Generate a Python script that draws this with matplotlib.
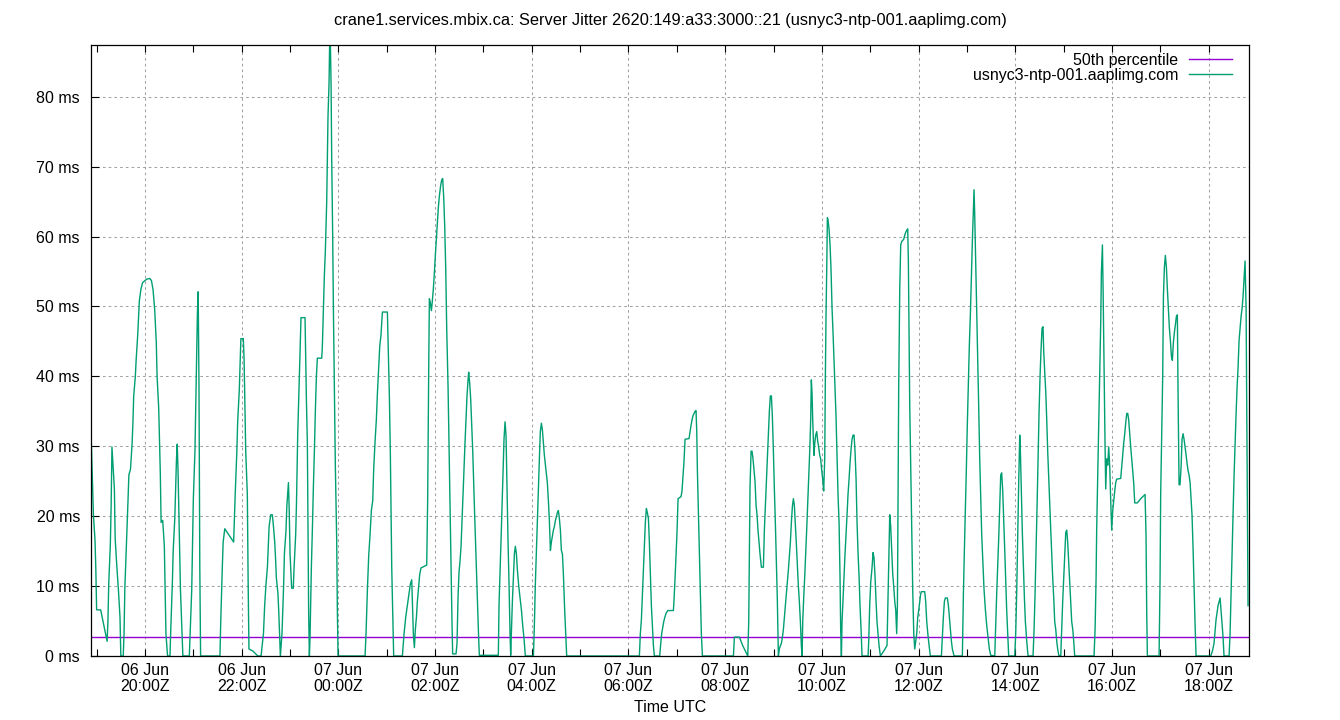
import pandas as pd
import matplotlib
matplotlib.use("Agg")
import matplotlib.pyplot as plt
import matplotlib.dates as mdates
from matplotlib.ticker import FuncFormatter

plt.rcParams['font.family'] = ['Liberation Sans', 'DejaVu Sans']
plt.rcParams['font.size'] = 11.5

title = "crane1.services.mbix.ca: Server Jitter 2620:149:a33:3000::21 (usnyc3-ntp-001.aaplimg.com)"
server = "usnyc3-ntp-001.aaplimg.com"

# window: 24h ending around 18:50Z on 07 Jun
window_start = pd.Timestamp("2023-06-06 18:53")
window_minutes = 1437
p50_ms = 2.67
y_max = 87.4
y_ticks = [0, 10, 20, 30, 40, 50, 60, 70, 80]

# minutes since window_start
jitter_min = [
    0, 1, 2, 3, 5, 6, 7, 12, 20, 21,
    22, 24, 25, 26, 27, 29, 30, 32, 34, 36,
    37, 40, 41, 42, 44, 46, 47, 49, 51, 52,
    53, 55, 56, 58, 59, 60, 62, 64, 69, 73,
    75, 77, 79, 81, 82, 84, 85, 86, 87, 89,
    91, 92, 93, 95, 98, 99, 101, 102, 104, 105,
    106, 107, 108, 110, 111, 113, 114, 122, 123, 125,
    127, 129, 130, 131, 132, 133, 134, 135, 136, 160,
    161, 163, 164, 166, 177, 179, 181, 182, 184, 185,
    186, 189, 190, 191, 192, 194, 195, 196, 201, 207,
    211, 214, 215.5, 217, 219, 220, 221, 223, 225, 226,
    228, 229, 230, 232, 233, 234, 235, 237, 238, 239,
    240, 242, 243, 244, 245, 246, 247, 249, 251, 252,
    254, 255, 255.7, 256.5, 257.7, 259, 260.6, 265.6, 266.4, 267.3,
    268.5, 269.3, 270.1, 271, 271.8, 273.5, 274.7, 275.9, 277.2, 278.4,
    279.7, 280.9, 286.3, 287.1, 287.9, 288.8, 289.6, 290.8, 291.7, 292.5,
    293.3, 294.1, 295.4, 296.2, 297, 297.9, 298.7, 299.9, 300.8, 302,
    303.2, 304.9, 305.7, 306.6, 340.1, 341.3, 343, 344.6, 346.3, 347.9,
    349.6, 350.8, 352.5, 354.1, 355.4, 357, 358.3, 359.9, 361.6, 367.8,
    368.6, 370.3, 371.5, 372.3, 373.2, 374.4, 375.6, 386.4, 388.5, 390.5,
    392.6, 394.7, 396.3, 398, 398.8, 400, 401.3, 402.5, 403.8, 405,
    406.3, 407.9, 409.5, 416.6,
    417.8, 419.1, 419.9, 421.1, 422.4, 423.6, 424.8, 426.1, 427.3, 428.6,
    429.8, 431, 432.3, 433.9, 435.2, 436.4, 437.7, 438.9, 440.2, 441.4,
    443.1, 444.3, 445.5, 446.8, 448, 448.8, 453, 454.2, 455.5, 456.7,
    458, 459.2, 460.4, 461.7, 462.9, 464.2, 465.4, 466.6, 467.9, 468.7,
    470, 471.2, 472.4, 473.7, 474.9, 476.1, 477.4, 478.6, 479.9, 481.1,
    481.9, 505.5, 506.3, 507.6, 508.8, 510, 511.3, 512.5, 513.8, 515,
    516.3, 517.5, 518.8, 520, 520.8, 522.9, 524.1, 525.4, 526.6, 527.9,
    529.1, 530.8, 532.4, 534.1, 535.7, 537.4, 539, 549, 550.2, 551.4,
    553.1, 554.7, 556.4, 557.6, 558.9, 560.1, 561.4, 562.6, 563.9, 565.1,
    566.3, 567.6, 568.8, 570.1, 571.3, 572.5, 573.8, 575, 576.3, 577.5,
    578.7, 580, 581.2, 582.5, 583.7, 585, 586.2, 587.8, 589.1, 590.3,
    680.5, 681.7, 683, 684.2, 685.5, 686.7, 687.9, 689.2, 690.4, 691.7,
    692.9, 694.1, 695.4, 696.6, 697.9, 699.1, 705.7, 707, 708.2, 709.5,
    710.7, 712, 713.6, 715.7, 722.7, 723.5, 724.8, 726, 727.2, 728.5,
    732.2, 733.4, 734.7, 735.9, 737.2, 742.1, 743.4, 744.6, 745.9, 747.1,
    748.3, 749.6, 750.8, 751.7, 752.5, 753.7, 755, 756.2, 757.4, 758.7,
    797.2, 798.4, 804.6, 808.7, 815, 816.2, 817, 817.8, 819.1,
    820.3, 821.5, 822.8, 824, 825.3, 826.5, 827.7, 829, 830.2, 831.9,
    834.4, 835.6, 836.8, 838.1, 839.3, 840.6, 841.8, 843, 844.3, 845.5,
    846.8, 848, 849.3, 850.5, 851.7, 853, 854.2, 855.5, 856.7, 858,
    859.2, 860.4, 861.7, 862.9, 864.2, 865.4, 866.6, 867.9, 869.1, 870.4,
    871.6, 872.8, 874.1, 875.3, 876.6, 877.8, 879, 880.3, 881.5, 882.4,
    883.2, 884.4, 885.7, 886.9, 888.1, 889.4, 890.6, 891.9, 893.1, 893.9,
    894.8, 895.6, 896.4, 897.2, 898.1, 899.3, 900.6, 901.8, 903, 904.3,
    905.5, 906.8, 908, 909.2, 910.5, 911.3, 912.1, 913, 913.8, 914.6,
    915.9, 917.1, 918.3, 919.6, 920.8, 922.1, 923.3, 924.5, 925.8, 927,
    928.3, 929.5, 930.3, 931.2, 932, 933.2, 934.5, 935.7, 937, 938.2,
    939.4, 940.7, 941.9, 943.2, 944.4, 945.7, 946.9, 948.1, 949.4, 950.6,
    951.9, 953.1, 954.3, 955.6, 956.8, 964.3, 965.1, 966.3, 967.6, 969.2,
    970.5, 971.7, 973, 974.2, 975.4, 976.7, 977.9, 979.6, 983.7, 987.8,
    989.1, 990.3, 991.2, 992.4, 993.6, 994.9, 996.1, 997.4, 998.6, 999.8,
    1000.7, 1001.5, 1002.3, 1003.6, 1004.8, 1006.1, 1008.5, 1009.8, 1011, 1012.3,
    1013.5, 1014.3, 1015.2, 1016, 1017.2, 1018.5, 1019.7, 1021, 1022.2, 1023.4,
    1024.7, 1025.9, 1027.2, 1028.4, 1029.6,
    1030.4, 1034.6, 1035.8, 1037.1, 1038.7, 1040, 1041.6, 1055.3, 1056.5, 1057.7,
    1059, 1060.2, 1062.7, 1064, 1065.2, 1066.4, 1067.7, 1068.9, 1071, 1081.3,
    1082.6, 1083.8, 1085.1, 1086.3, 1087.5, 1088.8, 1090, 1091.3, 1092.5, 1093.7,
    1095, 1095.8, 1096.6, 1097.9, 1099.1, 1100.4, 1101.6, 1102.8, 1104.1, 1105.3,
    1107, 1108.2, 1109.9, 1111.5, 1113.2, 1114.8, 1116.5, 1121.5, 1122.7, 1123.9,
    1125.2, 1126.4, 1127.7, 1128.9, 1130.1, 1131.4, 1132.6, 1133.9, 1135.1, 1136.3,
    1137.6, 1138.8, 1146.3, 1147.5, 1148.8, 1150, 1151.2, 1152.5, 1153.3, 1154.5,
    1155.8, 1157, 1158.3, 1159.5, 1161.2, 1162.8, 1169, 1170.3, 1171.5, 1172.8,
    1174, 1175.2, 1176.5, 1177.7, 1179, 1180.2, 1181.4, 1182.3, 1183.5, 1184.8,
    1186, 1187.2, 1188.5, 1189.7, 1191, 1192.2, 1193.4, 1194.7, 1195.9, 1197.2,
    1198.4, 1199.6, 1200.9, 1203.4, 1204.6, 1205.8, 1207.1, 1208.3, 1209.6, 1210.8,
    1212, 1213.3, 1214.5, 1215.8, 1217, 1218.3, 1219.5, 1220.7, 1244.7, 1246,
    1247.2, 1248, 1249.3, 1250.5, 1251.7, 1253, 1253.8, 1255.1, 1255.9, 1257.1,
    1258.4, 1259.2, 1260.4, 1261.7, 1262.9, 1264.2, 1265.4, 1266.6, 1267.9, 1269.1,
    1270.4, 1271.6, 1272.8, 1277.8, 1279, 1280.3, 1281.5, 1282.8, 1284, 1285.3,
    1286.5, 1287.7, 1289, 1290.2, 1291.5, 1292.7, 1293.9, 1295.2, 1298.5, 1302.6,
    1308, 1309.2, 1310.1, 1310.9, 1325.4, 1326.6, 1327.4, 1328.7, 1329.9, 1330.8,
    1332, 1333.2, 1334.5, 1335.7, 1337, 1338.2, 1339.4, 1340.7, 1341.9, 1343.2,
    1344.4, 1345.7, 1346.9, 1348.1, 1349, 1350.2, 1351.4, 1352.7, 1353.9, 1355.2,
    1356.4, 1357.7, 1358.9, 1360.1, 1361.4, 1362.6, 1363.9, 1365.1, 1366.3, 1367.6,
    1368.8, 1370.1, 1371.3, 1389.5, 1391.6, 1393.6, 1394.9, 1396.1, 1397.4, 1398.6,
    1399.9, 1401.1, 1402.3, 1403.6, 1404.8, 1406, 1412.3, 1413.5, 1414.7, 1416,
    1417.2, 1418.5, 1419.7, 1420.9, 1422.2, 1423.4, 1424.7, 1425.9, 1427.2, 1428.4,
    1429.6, 1430.9, 1432.1, 1433.4, 1434.2, 1435, 1435.8,
]

jitter_ms = [
    32.1, 28.4, 24.2, 20.2, 16.5, 12.3, 6.6, 6.6, 2.1, 4.9,
    10.3, 16.0, 21.6, 29.9, 27.9, 24.0, 16.8, 12.9, 9.5, 5.5,
    0, 0, 3.2, 9.7, 16.0, 22.5, 25.9, 26.7, 30.4, 33.3,
    37.2, 40.0, 42.3, 46.0, 48.3, 50.8, 52.5, 53.4, 53.9, 54.0,
    53.7, 52.4, 49.6, 44.9, 40.0, 35.5, 30.7, 26.2, 19.1, 19.4,
    15.7, 9.5, 3.2, 0, 0, 3.8, 10.6, 15.1, 19.7, 23.9,
    27.9, 30.3, 26.5, 15.1, 9.5, 3.2, 0, 0, 3.2, 9.5,
    22.5, 29.3, 35.8, 42.3, 48.8, 52.1, 38.9, 12.9, 0, 0,
    4.9, 12.9, 16.3, 18.2, 16.3, 23.3, 29.3, 33.5, 38.0, 41.5,
    45.4, 45.4, 42.3, 35.8, 29.3, 23.1, 10.6, 1.0, 0.7, 0,
    0, 3.2, 7.2, 10.0, 12.9, 15.7, 18.5, 20.2, 20.2, 19.1,
    16.3, 14.0, 11.2, 8.9, 6.3, 3.2, 0, 3.2, 6.6, 10.0,
    14.6, 18.0, 21.4, 23.1, 24.8, 20.8, 14.6, 9.7, 9.7, 12.6,
    17.4, 21.9, 26.7, 31.6, 36.4, 41.2, 48.4, 48.4, 42.8, 36.7,
    30.4, 18.5, 6.1, 0, 2.7, 12.9, 18.0, 23.9, 29.3, 35.0,
    40.0, 42.6, 42.6, 44.3, 47.7, 51.1, 54.5, 57.9, 61.6, 65.0,
    71.2, 77.2, 82.0, 88.0, 88.0, 82.0, 71.2, 60.2, 49.7, 38.4,
    27.3, 16.5, 6.6, 0, 0, 3.2, 9.5, 14.3, 17.4, 20.8,
    22.2, 26.7, 30.7, 33.8, 37.5, 41.2, 44.3, 46.0, 49.2, 49.2,
    45.2, 36.9, 28.7, 20.5, 12.6, 6.3, 0, 0, 3.2, 5.5,
    7.2, 8.9, 10.3, 10.9, 7.8, 3.2, 1.2, 3.8, 5.5, 7.8,
    9.5, 11.7, 12.6, 13.0,
    22.5, 41.5, 51.1, 50.5, 49.4, 50.8, 52.5, 54.8, 57.3, 59.6,
    61.9, 64.1, 65.8, 67.3, 68.1, 68.3, 65.6, 61.6, 55.4, 46.9,
    38.4, 29.9, 21.4, 12.9, 4.6, 0.3, 0.3, 1.8, 8.6, 12.0,
    13.7, 15.7, 19.4, 23.3, 27.3, 30.7, 33.8, 37.2, 39.5, 40.6,
    38.9, 36.7, 33.0, 29.3, 24.5, 20.2, 15.7, 11.2, 6.6, 2.4,
    0.1, 0.1, 7.2, 12.0, 16.5, 21.4, 26.2, 31.0, 33.5, 31.6,
    23.6, 16.5, 10.0, 3.2, 0.1, 7.8, 11.2, 14.6, 15.7, 14.6,
    12.3, 10.0, 8.3, 6.6, 4.4, 2.4, 0, 0, 4.4, 10.3,
    16.5, 22.2, 28.2, 32.1, 33.3, 32.4, 30.4, 28.7, 27.3, 25.9,
    24.8, 22.2, 19.4, 15.1, 16.3, 17.1, 18.0, 18.5, 19.4, 19.9,
    20.5, 20.8, 19.7, 18.0, 15.1, 14.6, 11.7, 6.6, 3.2, 0,
    0, 3.2, 5.2, 8.6, 12.0, 15.7, 19.1, 21.1, 20.5, 19.7,
    16.3, 12.0, 7.2, 4.4, 1.5, 0, 0, 1.8, 3.2, 4.1,
    4.9, 5.5, 6.1, 6.5, 6.5, 8.0, 11.2, 14.6, 17.7, 22.5,
    22.8, 23.6, 25.9, 27.9, 31.0, 31.1, 32.1, 33.0, 33.8, 34.4,
    34.7, 35.0, 35.1, 32.1, 26.5, 20.8, 14.6, 8.9, 3.2, 0,
    0, 2.7, 2.7, 1.5, 0, 4.9, 14.6, 24.2, 29.3,
    29.3, 28.2, 26.5, 25.0, 21.6, 20.2, 18.0, 16.3, 14.6, 12.7,
    12.7, 18.0, 21.4, 24.8, 28.2, 31.6, 35.0, 37.2, 37.2, 34.4,
    29.3, 23.9, 18.8, 13.4, 8.0, 0, 1.0, 1.5, 1.8, 2.7,
    3.8, 5.5, 7.2, 8.9, 10.6, 12.3, 14.3, 16.3, 19.1, 21.4,
    22.5, 21.6, 18.8, 16.0, 12.9, 10.0, 7.8, 4.9, 1.5, 0,
    4.9, 8.3, 11.4, 14.6, 18.0, 21.9, 25.3, 29.3, 33.8, 39.5,
    37.5, 33.8, 31.0, 28.7, 30.4, 31.6, 32.1, 30.7, 29.9, 28.7,
    28.2, 26.5, 25.3, 23.6, 28.2, 40.0, 48.6, 55.4, 62.7, 62.4,
    61.0, 58.8, 55.4, 49.7, 46.3, 42.0, 38.4, 34.4, 28.7, 23.1,
    19.1, 11.2, 3.8, 0, 4.9, 8.0, 11.2, 14.6, 17.4, 20.2,
    23.1, 25.3, 27.6, 29.6, 31.0, 31.6, 31.6, 29.3, 25.3, 19.1,
    14.6, 11.4, 7.2, 3.8, 0, 0, 2.1, 7.2, 10.6, 12.6,
    14.8, 14.0, 11.2, 7.8, 4.9, 3.2, 1.5, 0, 0.7, 1.5,
    8.9, 15.1, 20.2, 18.5, 15.1, 11.7, 10.0, 7.8, 6.6, 3.2,
    7.2, 24.2, 38.4, 52.5, 58.8, 59.3, 59.6, 60.2, 60.6, 60.9,
    61.1, 56.5, 46.0, 35.8, 27.0, 18.0, 9.5, 3.2, 1.0, 2.1,
    3.2, 5.5, 6.6, 7.8, 8.9,
    9.2, 9.2, 7.8, 4.9, 2.9, 1.5, 0, 0, 2.7, 5.5,
    7.8, 8.3, 8.3, 7.2, 5.5, 3.8, 2.1, 1.0, 0, 0,
    8.9, 15.1, 21.1, 27.0, 33.3, 39.2, 44.6, 49.1, 54.2, 59.3,
    63.9, 66.7, 63.3, 56.2, 49.1, 42.6, 35.5, 28.4, 22.5, 17.4,
    12.9, 9.5, 6.6, 4.4, 2.7, 1.0, 0.1, 0, 4.4, 8.9,
    12.9, 16.8, 21.4, 25.9, 26.2, 23.6, 19.7, 15.1, 10.6, 6.6,
    3.2, 0, 0, 3.2, 9.5, 17.4, 24.8, 31.6, 29.3, 23.6,
    17.4, 12.9, 8.3, 4.9, 2.1, 0, 0, 3.8, 8.9, 15.1,
    21.4, 28.2, 35.0, 40.0, 44.0, 46.9, 47.1, 43.5, 40.6, 37.8,
    33.8, 29.3, 25.3, 21.9, 18.0, 14.6, 11.2, 8.3, 4.9, 3.8,
    2.1, 1.0, 0.1, 0, 3.8, 7.8, 11.2, 14.6, 17.7, 18.0,
    16.3, 13.4, 10.6, 7.8, 4.9, 3.8, 2.1, 0, 0, 3.8,
    10.9, 18.2, 25.6, 33.0, 40.3, 47.7, 54.8, 58.8, 52.8, 41.2,
    29.9, 23.9, 28.2, 27.3, 29.9, 27.0, 22.2, 18.0, 20.8, 22.2,
    23.6, 24.8, 25.3, 25.4, 27.0, 28.7, 30.4, 31.8, 33.3, 34.7,
    34.7, 33.8, 31.8, 29.9, 28.2, 26.5, 24.8, 21.9, 21.9, 22.5,
    23.1, 17.4, 6.1, 0, 0, 10.6, 23.1, 31.6, 40.0, 51.4,
    55.6, 57.3, 55.6, 52.5, 49.7, 46.9, 45.2, 42.9, 42.3, 44.9,
    46.3, 47.4, 48.6, 48.8, 37.2, 24.5, 24.5, 27.0, 31.0, 31.8,
    31.0, 29.9, 28.7, 27.6, 26.5, 25.9, 24.8, 22.5, 20.2, 15.4,
    10.0, 4.4, 0, 0, 0.7, 1.8, 3.5, 5.2, 6.3, 7.2,
    7.8, 8.3, 6.6, 4.6, 2.7, 0, 0, 3.2, 8.9, 14.6,
    20.2, 25.9, 30.4, 34.4, 38.4, 41.2, 45.2, 46.9, 48.6, 49.7,
    51.4, 54.2, 56.5, 49.7, 35.5, 21.4, 7.2,
]

times = window_start + pd.to_timedelta(jitter_min, unit="m")

fig = plt.figure(figsize=(13.4, 7.2), dpi=100)
ax = fig.add_axes([91 / 1340, 64 / 720, 1158 / 1340, 611 / 720])

ax.axhline(p50_ms, color="#9400d3", lw=1.0, label="50th percentile")
ax.plot(times, jitter_ms, color="#009e73", lw=1.0, label=server)

ax.set_xlim(window_start, window_start + pd.Timedelta(minutes=window_minutes))
ax.set_ylim(0, y_max)

ax.xaxis.set_major_locator(mdates.HourLocator(byhour=range(0, 24, 2)))
ax.xaxis.set_minor_locator(mdates.HourLocator())
ax.xaxis.set_major_formatter(mdates.DateFormatter("%d %b\n%H:%MZ"))
ax.set_yticks(y_ticks)
ax.yaxis.set_major_formatter(FuncFormatter(lambda v, _: f"{v:.0f} ms"))

ax.tick_params(axis="x", which="both", direction="in", top=True, length=5, width=0.8, pad=5)
ax.tick_params(axis="y", which="both", direction="in", right=False, length=6, width=0.8, pad=8)
for lab in ax.get_xticklabels():
    lab.set_linespacing(1.05)

ax.grid(True, which="major", color="#a0a0a0", lw=0.75, linestyle=(0, (2.5, 3)))
for sp in ax.spines.values():
    sp.set_linewidth(0.9)
    sp.set_color("black")

ax.set_xlabel("Time UTC", labelpad=5)
fig.suptitle(title, y=1 - 20 / 720, va="center", fontsize=11.8)

ax.legend(loc="upper right", bbox_to_anchor=(1 - 9 / 1158, 1), frameon=False,
          markerfirst=False, handlelength=2.7, handletextpad=0.65,
          labelspacing=0.0, borderaxespad=0.3, borderpad=0.2)

fig.savefig("out.png", dpi=100)
